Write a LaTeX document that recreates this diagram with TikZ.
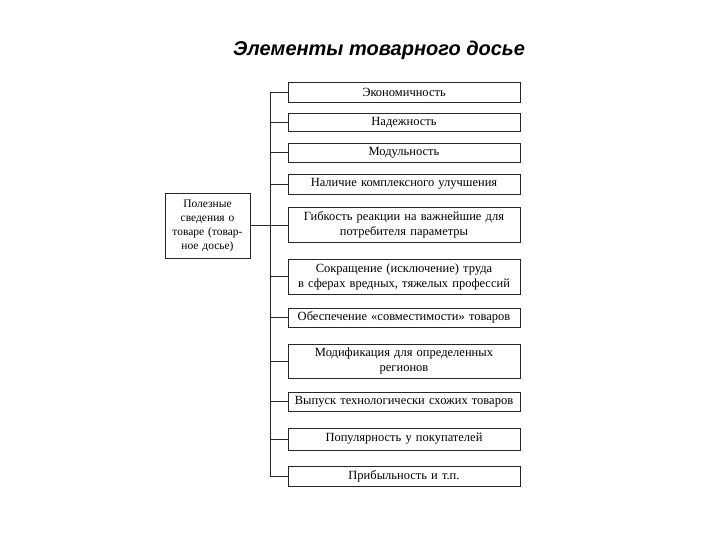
\documentclass[tikz,border=0pt]{standalone}
\usepackage{fontspec}
\setmainfont{Liberation Serif}
\newfontfamily\titlefont{Liberation Sans}
\begin{document}
\begin{tikzpicture}[x=1pt,y=-1pt,
  item/.style={draw=black!85, line width=0.8pt, minimum width=232pt, inner sep=0pt,
    align=center, text width=230pt, font=\fontsize{12.5}{15}\selectfont},
  info/.style={draw=black!85, line width=0.8pt, minimum width=85pt, minimum height=65pt,
    inner sep=0pt, align=center, text width=83pt, font=\fontsize{11.5}{14}\selectfont},
  link/.style={draw=black!85, line width=0.8pt}]
\useasboundingbox (0,0) rectangle (720,540);
\node[font=\titlefont\bfseries\itshape\fontsize{20}{24}\selectfont] (title) at (379,50) {Элементы товарного досье};
\node[item, minimum height=20pt] (b1) at (404,92) {Экономичность};
\node[item, minimum height=18pt] (b2) at (404,122.5) {Надежность};
\node[item, minimum height=19pt] (b3) at (404,152.5) {Модульность};
\node[item, minimum height=20pt] (b4) at (404,184) {Наличие комплексного улучшения};
\node[item, minimum height=35pt] (b5) at (404,225) {Гибкость реакции на важнейшие для\\потребителя параметры};
\node[item, minimum height=35pt] (b6) at (404,276.5) {Сокращение (исключение) труда\\в сферах вредных, тяжелых профессий};
\node[item, minimum height=19pt] (b7) at (404,317.5) {Обеспечение «совместимости» товаров};
\node[item, minimum height=34pt] (b8) at (404,361) {Модификация для определенных\\регионов};
\node[item, minimum height=19pt] (b9) at (404,401.5) {Выпуск технологически схожих товаров};
\node[item, minimum height=22pt] (b10) at (404,439) {Популярность у покупателей};
\node[item, minimum height=20pt] (b11) at (404,476) {Прибыльность и т.п.};
\node[info] (src) at (207.5,225.5) {Полезные\\сведения о\\товаре (товар-\\ное досье)};
\coordinate (trunktop) at (270,92);
\coordinate (trunkbot) at (270,476);
\draw[link] (trunktop) -- (trunkbot);
\draw[link] (src.east) -- (src.east -| trunktop);
\foreach \b in {b1,b2,b3,b4,b5,b6,b7,b8,b9,b10,b11}{
  \draw[link] (\b.west) -- (\b.west -| trunktop);
}
\end{tikzpicture}
\end{document}
